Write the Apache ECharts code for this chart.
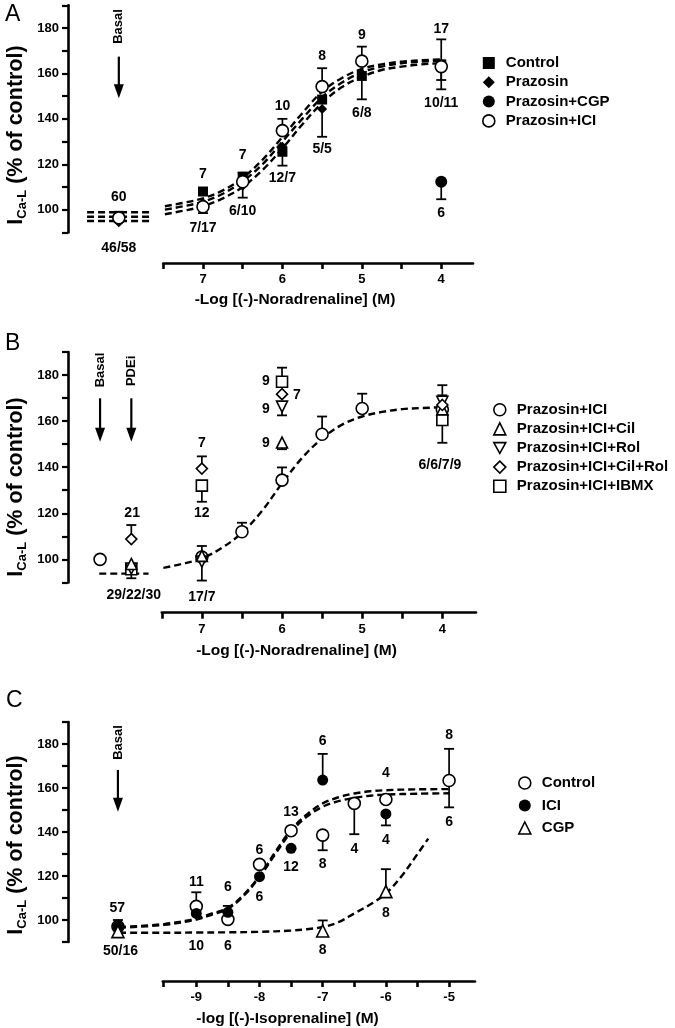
<!DOCTYPE html>
<html><head><meta charset="utf-8">
<script src="https://cdn.jsdelivr.net/npm/echarts@6/dist/echarts.min.js"></script>
<style>html,body{margin:0;padding:0;background:#fff}#c{width:675px;height:1028px}</style>
</head><body><div id="c"></div><script>
const FONT = '"Liberation Sans", Arial, Helvetica, sans-serif';

// ================= Panel A (x = -log[NA]) =================
const A_control  = [[8.06,97],[7,108],[6.5,114.5],[6,125.5],[5.5,148.5],[5,158.9],[4,164]];
const A_prazosin = [[8.06,94.5],[7,103],[6.5,110.5],[6,127.7],[5.5,144.3],[5,160],[4,163]];
const A_cgp      = [[4,112.3]];
const A_ici      = [[8.06,96.4],[7,101.3],[6.5,112.3],[6,134.8],[5.5,154.2],[5,165.4],[4,163]];
const A_err = [[8.06,96.4,99.1],[7,101.3,98.5],[6.5,112.3,116.3],[6.5,112.3,105.3],[6,134.8,140],[6,125.5,119.4],
  [5.5,154.2,162.3],[5.5,144.3,132.1],[5,165.4,171.8],[5,158.9,148.6],[4,163,175],[4,163,157.1],[4,163,153],[4,112.3,104.6]];
const A_labels = [[8.06,105.6,'60'],[8.06,83.1,'46/58'],[7,115.7,'7'],[7,91.9,'7/17'],[6.5,124.1,'7'],[6.5,99.4,'6/10'],
  [6,145.7,'10'],[6,114,'12/7'],[5.5,167.7,'8'],[5.5,126.7,'5/5'],[5,176.9,'9'],[5,142.6,'6/8'],[4,179.6,'17'],[4,147,'10/11'],[4,98.5,'6']];
const A_basalX = [8.46, 7.67];
const A_basalFit = [98.9, 96.9, 95.0];
const A_fitX     = [7.48,7.25,7.0,6.75,6.5,6.25,6.0,5.75,5.5,5.25,5.0,4.75,4.5,4.25,4.0];
const A_fitUpper = [101.5,103,105,108.5,114,122,132,142.5,152,158,162,164,165.2,165.8,166.2];
const A_fitMid   = [100,101.5,103.5,107,112.5,120,130,140,149.5,156,160.5,163,164.5,165.2,165.6];
const A_fitLower = [98,99.5,101.5,105,110,117.5,127,137.5,147,154,158.5,161.5,163,164,164.5];
const A_arrows = [[8.06,167.4,149.1]];
const A_vtext  = [[8.06,180.7,'Basal']];

// ================= Panel B =================
const B_ici    = [[8.27,100],[7,101],[6.5,112],[6,134.4],[5.5,154.3],[5,165.5],[4,165]];
const B_cil    = [[7.88,98],[7,101.5],[6,150.7],[4,165.1]];
const B_rol    = [[7.88,96],[7,99],[6,166.3],[4,168.4]];
const B_cilrol = [[7.88,108.8],[7,139.4],[6,171.7],[4,167]];
const B_ibmx   = [[7.88,95.7],[7,132],[6,177.1],[4,160.5]];
const B_err = [[7.88,108.8,114.9],[7.88,95.7,91.8],[7,139.4,144.7],[7,132,125],[7,101,105.8],[7,99,90.8],
  [6.5,112,115.9],[6,134.4,139.9],[5.5,154.3,162],[5,165.5,171.9],[6,177.1,183.2],[6,166.3,162.5],[6,150.7,147.8],
  [4,168.4,175.6],[4,166,171.2],[4,160.5,150.6]];
const B_labels = [[7.87,120.2,'21'],[7.85,84.5,'29/22/30'],[7,150.6,'7'],[7,120.2,'12'],[7,83.8,'17/7'],
  [6.2,177.4,'9'],[5.815,171.3,'7'],[6.2,165.2,'9'],[6.2,150.5,'9'],[4.03,140.9,'6/6/7/9']];
const B_basalX = [8.28, 7.665];
const B_basalFit = [93.8];
const B_fitX = [7.48,7.25,7.0,6.75,6.5,6.25,6.0,5.75,5.5,5.25,5.0,4.75,4.5,4.25,4.0];
const B_fit  = [96.3,98,100.4,105,111.5,121,133,144,152.5,158.5,162,164,165.2,165.7,166];
const B_arrows = [[8.27,169.9,151.0],[7.88,169.9,151.0]];
const B_vtext  = [[8.27,182.2,'Basal'],[7.88,181.8,'PDEi']];

// ================= Panel C (x = log[Iso]) =================
const C_control = [[-10.24,97],[-9,106.2],[-8.5,100.3],[-8,125.3],[-7.5,140.6],[-7,138.6],[-6.5,153],[-6,154.8],[-5,163.4]];
const C_ici     = [[-10.24,97],[-9,103],[-8.5,103.5],[-8,119.7],[-7.5,132.6],[-7,163.6],[-6,148.2]];
const C_cgp     = [[-10.24,94.7],[-7,95],[-6,112.9]];
const C_err = [[-10.24,97,100],[-9,106.2,112.6],[-8.5,103.5,106.4],[-7,163.6,175.5],[-7,138.6,131.7],[-7,95,99.8],
  [-6.5,153,139],[-6,148.2,143],[-6,112.9,123.1],[-5,163.4,177.8],[-5,163.4,151.2]];
const C_labels = [[-10.25,105.3,'57'],[-10.2,85.9,'50/16'],[-9,117,'11'],[-9,87.9,'10'],[-8.5,115.1,'6'],[-8.5,87.9,'6'],
  [-8,131.8,'6'],[-8,110.3,'6'],[-7.5,149.2,'13'],[-7.5,124.2,'12'],[-7,181.4,'6'],[-7,125.6,'8'],[-7,86.4,'8'],
  [-6.5,132,'4'],[-6,166.8,'4'],[-6,136.4,'4'],[-6,103,'8'],[-5,184.1,'8'],[-5,144.5,'6']];
const C_fitX       = [-10.22,-9.5,-9,-8.75,-8.5,-8.25,-8,-7.75,-7.5,-7.25,-7,-6.75,-6.5,-6.25,-6,-5.5,-5];
const C_fitControl = [96.8,98.2,100.6,103,105.5,111.5,120,131,141,148,153,155.8,157.5,158.5,159,159.4,159.5];
const C_fitICI     = [96.5,97.8,100.2,102.5,105,111,119.5,130,140,147,151.5,154,155.5,156.5,157,157.4,157.6];
const C_cgpX       = [-10.22,-9.5,-9,-8.5,-8,-7.5,-7.25,-7,-6.75,-6.5,-6.25,-6,-5.75,-5.5,-5.33];
const C_fitCGP     = [94.2,94.2,94.3,94.4,94.6,95.2,95.8,96.8,99,103,107,112,120,130,137];
const C_arrows = [[-10.24,168.2,149.2]];
const C_vtext  = [[-10.24,180.7,'Basal']];

// ================= tick labels =================
const A_xTicks = [7.5,7,6.5,6,5.5,5,4.5,4];
const A_xLabels = [7,6,5,4];
const B_xTicks = [7.5,7,6.5,6,5.5,5,4.5,4];
const B_xLabels = [7,6,5,4];
const C_xTicks = [-9.53,-9,-8.5,-8,-7.5,-7,-6.5,-6,-5.5,-5];
const C_xLabels = [-9,-8,-7,-6,-5];
const yLabelValues = [100,120,140,160,180];

// ================= helpers =================
const zip = (xs, ys) => xs.map((x, i) => [x, ys[i]]);
const BLACK = '#000';
const hollow = {color:'#fff', borderColor:BLACK, borderWidth:1.6, opacity:1};
const solid = {color:BLACK, borderWidth:0, opacity:1};

function errSeries(data, ai){
  return {type:'custom', xAxisIndex:ai, yAxisIndex:ai, clip:false, z:2, silent:true,
    encode:{x:0, y:[1,2]}, data:data,
    renderItem:(p, api)=>{
      const x=api.value(0), p0=api.coord([x,api.value(1)]), p1=api.coord([x,api.value(2)]);
      return {type:'group', children:[
        {type:'line', shape:{x1:p0[0],y1:p0[1],x2:p1[0],y2:p1[1]}, style:{stroke:BLACK,lineWidth:1.7}},
        {type:'line', shape:{x1:p1[0]-5,y1:p1[1],x2:p1[0]+5,y2:p1[1]}, style:{stroke:BLACK,lineWidth:1.8}}
      ]};
    }};
}
function labelSeries(arr, ai, rot){
  return {type:'custom', xAxisIndex:ai, yAxisIndex:ai, clip:false, z:10, silent:true,
    encode:{x:0,y:1}, data:arr.map(d=>[d[0],d[1]]),
    renderItem:(p, api)=>{
      const c=api.coord([api.value(0),api.value(1)]);
      return {type:'text', x:c[0], y:c[1], rotation: rot?Math.PI/2:0,
        style:{text:arr[p.dataIndex][2], fill:BLACK, align:'center', verticalAlign:'middle',
          font:'bold '+(rot?13:14)+'px '+FONT}};
    }};
}
function arrowSeries(arr, ai){
  return {type:'custom', xAxisIndex:ai, yAxisIndex:ai, clip:false, z:5, silent:true,
    encode:{x:0,y:[1,2]}, data:arr,
    renderItem:(p, api)=>{
      const x=api.value(0), p0=api.coord([x,api.value(1)]), p1=api.coord([x,api.value(2)]);
      const head=14, hw=5;
      return {type:'group', children:[
        {type:'line', shape:{x1:p0[0],y1:p0[1],x2:p1[0],y2:p1[1]-head+1}, style:{stroke:BLACK,lineWidth:2.2}},
        {type:'polygon', shape:{points:[[p1[0]-hw,p1[1]-head],[p1[0]+hw,p1[1]-head],[p1[0],p1[1]]]}, style:{fill:BLACK}}
      ]};
    }};
}
function fitSeries(name, data, ai, smooth){
  return {type:'line', name:name, xAxisIndex:ai, yAxisIndex:ai, data:data, symbol:'none', smooth:smooth?0.35:false,
    silent:true, z:3, lineStyle:{color:BLACK, width:2.4, type:[7,4]}};
}
function scat(name, data, ai, symbol, size, style, rot){
  return {type:'scatter', name:name, xAxisIndex:ai, yAxisIndex:ai, data:data, symbol:symbol, symbolSize:size,
    symbolRotate: rot||0, itemStyle:style, z:4, silent:true};
}

// ================= layout =================
const gridsDef = [
  {left:68, top:5.3, width:405, height:227.1},   // A data
  {left:163.3, top:253, width:309.7, height:10}, // A x axis
  {left:68, top:352, width:408, height:230.4},   // B data
  {left:161.8, top:602.7, width:314.2, height:10},// B x axis
  {left:68, top:722, width:407, height:220},     // C data
  {left:162.8, top:971, width:312.2, height:10}  // C x axis
];
const axisFont = {fontFamily:FONT, fontWeight:'bold', fontSize:13, color:BLACK};
function dataX(gi, min, max, inverse){
  return {type:'value', gridIndex:gi, min:min, max:max, inverse:inverse, show:false};
}
function showX(gi, min, max, inverse, ticks, labels){
  return {type:'value', gridIndex:gi, min:min, max:max, inverse:inverse, position:'bottom',
    axisLine:{show:true, onZero:false, lineStyle:{color:BLACK, width:2.6}},
    axisTick:{show:true, length:6, customValues:ticks, lineStyle:{color:BLACK, width:2.6}},
    axisLabel:Object.assign({show:true, margin:10, customValues:labels}, axisFont),
    splitLine:{show:false}};
}
function dataY(gi){
  return {type:'value', gridIndex:gi, min:90, max:190, interval:10, position:'left',
    axisLine:{show:true, onZero:false, lineStyle:{color:BLACK, width:2.6}},
    axisTick:{show:true, length:6, lineStyle:{color:BLACK, width:2.2}},
    axisLabel:Object.assign({margin:9, formatter:v=> yLabelValues.includes(v)? String(v):''}, axisFont),
    splitLine:{show:false}};
}
function hideY(gi){ return {type:'value', gridIndex:gi, min:0, max:1, show:false}; }

const legendText = {fontFamily:FONT, fontWeight:'bold', fontSize:15, color:BLACK, lineHeight:14, padding:[0,0,0,6]};
function legendDef(left, top, gap, items){
  return {orient:'vertical', left:left, top:top, itemWidth:12, itemHeight:12, itemGap:gap, symbolKeepAspect:true,
    selectedMode:false, textStyle:legendText, padding:0, data:items};
}
const downTri = 'path://M0,0 L10,0 L5,9 Z';

function yTitle(cx, cy){
  return {type:'text', x:cx, y:cy, rotation:Math.PI/2,
    style:{text:'{a|I}{b|Ca-L}{a| (% of control)}', align:'center', verticalAlign:'middle', fill:BLACK,
      rich:{a:{fontFamily:FONT, fontWeight:'bold', fontSize:21.5, lineHeight:26, fill:BLACK},
            b:{fontFamily:FONT, fontWeight:'bold', fontSize:13, lineHeight:13, verticalAlign:'bottom', fill:BLACK}}}};
}
function xTitle(text, cx, cy){
  return {type:'text', x:cx, y:cy, style:{text:text, align:'center', verticalAlign:'middle', fill:BLACK,
    font:'bold 15.5px '+FONT}};
}
function letter(t, x, y){
  return {type:'text', x:x, y:y, style:{text:t, fill:BLACK, font:'23px '+FONT, align:'left', verticalAlign:'top'}};
}

const option = {
  backgroundColor:'#fff',
  animation:false,
  grid: gridsDef,
  xAxis:[
    dataX(0, 3.6, 8.7, true), showX(1, 3.6, 7.5, true, A_xTicks, A_xLabels),
    dataX(2, 3.58, 8.67, true), showX(3, 3.58, 7.5, true, B_xTicks, B_xLabels),
    dataX(4, -11.03, -4.59, false), showX(5, -9.53, -4.59, false, C_xTicks, C_xLabels)
  ],
  yAxis:[dataY(0), hideY(1), dataY(2), hideY(3), dataY(4), hideY(5)],
  legend:[
    legendDef(482, 55.5, 4.3, [
      {name:'Control', icon:'rect', itemStyle:solid},
      {name:'Prazosin', icon:'diamond', itemStyle:solid},
      {name:'Prazosin+CGP', icon:'circle', itemStyle:solid},
      {name:'Prazosin+ICI', icon:'circle', itemStyle:hollow}]),
    legendDef(493, 402.3, 4.1, [
      {name:'Prazosin+ICI', icon:'circle', itemStyle:hollow},
      {name:'Prazosin+ICI+Cil', icon:'triangle', itemStyle:hollow},
      {name:'Prazosin+ICI+Rol', icon:downTri, itemStyle:hollow},
      {name:'Prazosin+ICI+Cil+Rol', icon:'diamond', itemStyle:hollow},
      {name:'Prazosin+ICI+IBMX', icon:'rect', itemStyle:hollow}]),
    legendDef(518, 775.5, 7.5, [
      {name:'Control', icon:'circle', itemStyle:hollow},
      {name:'ICI', icon:'circle', itemStyle:solid},
      {name:'CGP', icon:'triangle', itemStyle:hollow}])
  ],
  graphic:[
    letter('A', 5, 3), letter('B', 5, 332), letter('C', 6, 689),
    yTitle(16, 135), yTitle(16, 487), yTitle(16, 845),
    xTitle('-Log [(-)-Noradrenaline] (M)', 295, 300),
    xTitle('-Log [(-)-Noradrenaline] (M)', 296.5, 650.7),
    xTitle('-log [(-)-Isoprenaline] (M)', 287.5, 1018.3)
  ],
  series:[
    // ---- A ----
    fitSeries('fitA1', zip(A_basalX, [A_basalFit[0],A_basalFit[0]]), 0, false),
    fitSeries('fitA2', zip(A_basalX, [A_basalFit[1],A_basalFit[1]]), 0, false),
    fitSeries('fitA3', zip(A_basalX, [A_basalFit[2],A_basalFit[2]]), 0, false),
    fitSeries('fitA4', zip(A_fitX, A_fitUpper), 0, true),
    fitSeries('fitA5', zip(A_fitX, A_fitMid), 0, true),
    fitSeries('fitA6', zip(A_fitX, A_fitLower), 0, true),
    errSeries(A_err, 0),
    scat('Prazosin', A_prazosin, 0, 'diamond', 10, solid),
    scat('Control', A_control, 0, 'rect', 10, solid),
    scat('Prazosin+CGP', A_cgp, 0, 'circle', 12, solid),
    scat('Prazosin+ICI', A_ici, 0, 'circle', 12, hollow),
    labelSeries(A_labels, 0, false),
    arrowSeries(A_arrows, 0),
    labelSeries(A_vtext, 0, true),
    // ---- B ----
    fitSeries('fitB1', zip(B_basalX, [B_basalFit[0],B_basalFit[0]]), 2, false),
    fitSeries('fitB2', zip(B_fitX, B_fit), 2, true),
    errSeries(B_err, 2),
    scat('Prazosin+ICI', B_ici, 2, 'circle', 12, hollow),
    scat('Prazosin+ICI+IBMX', B_ibmx, 2, 'rect', 11, hollow),
    scat('Prazosin+ICI+Rol', B_rol, 2, 'triangle', 11, hollow, 180),
    scat('Prazosin+ICI+Cil', B_cil, 2, 'triangle', 11, hollow),
    scat('Prazosin+ICI+Cil+Rol', B_cilrol, 2, 'diamond', 11, hollow),
    labelSeries(B_labels, 2, false),
    arrowSeries(B_arrows, 2),
    labelSeries(B_vtext, 2, true),
    // ---- C ----
    fitSeries('fitC1', zip(C_fitX, C_fitControl), 4, true),
    fitSeries('fitC2', zip(C_fitX, C_fitICI), 4, true),
    fitSeries('fitC3', zip(C_cgpX, C_fitCGP), 4, true),
    errSeries(C_err, 4),
    scat('Control', C_control, 4, 'circle', 12, hollow),
    scat('ICI', C_ici, 4, 'circle', 11, solid),
    scat('CGP', C_cgp, 4, 'triangle', 12, hollow),
    labelSeries(C_labels, 4, false),
    arrowSeries(C_arrows, 4),
    labelSeries(C_vtext, 4, true)
  ]
};
const chart = echarts.init(document.getElementById('c'), null, {renderer:'canvas'});
chart.setOption(option);
</script></body></html>
